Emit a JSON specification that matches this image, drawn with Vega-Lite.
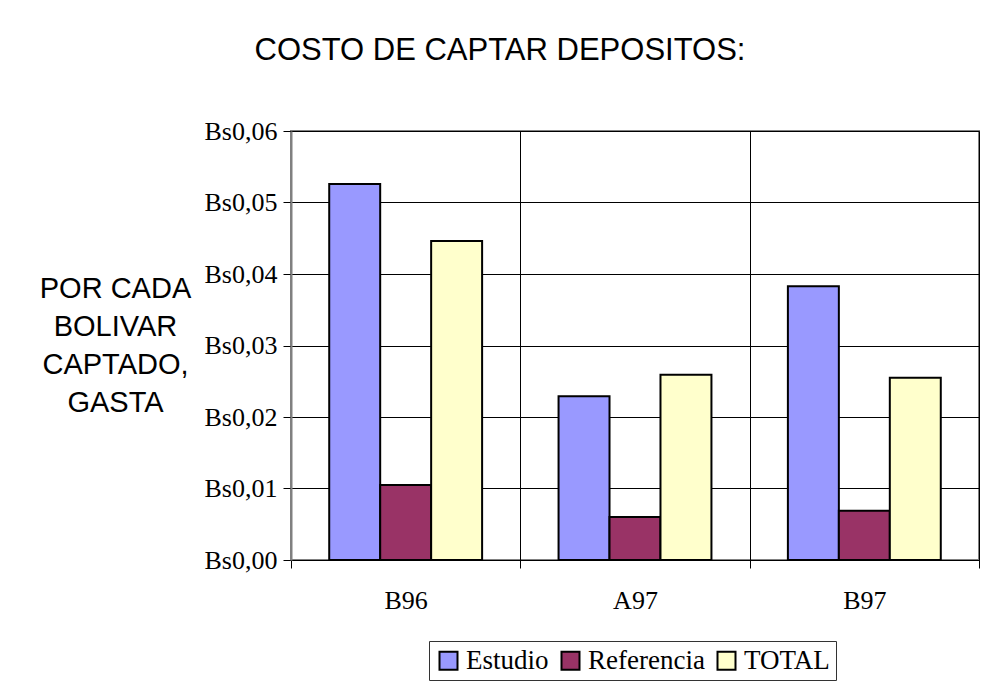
{
  "$schema": "https://vega.github.io/schema/vega-lite/v6.json",
  "width": 688,
  "height": 429,
  "autosize": {"type": "none"},
  "padding": {"left": 291, "top": 131, "right": 10, "bottom": 126},
  "background": "white",
  "title": {
    "text": "COSTO DE CAPTAR DEPOSITOS:",
    "font": "Liberation Sans",
    "fontSize": 31,
    "fontWeight": "normal",
    "color": "black",
    "anchor": "middle",
    "dx": -135,
    "offset": 51
  },
  "data": {
    "values": [
      {"periodo": "B96", "serie": "Estudio", "valor": 0.0526},
      {"periodo": "B96", "serie": "Referencia", "valor": 0.0105},
      {"periodo": "B96", "serie": "TOTAL", "valor": 0.0446},
      {"periodo": "A97", "serie": "Estudio", "valor": 0.0229},
      {"periodo": "A97", "serie": "Referencia", "valor": 0.0060},
      {"periodo": "A97", "serie": "TOTAL", "valor": 0.0259},
      {"periodo": "B97", "serie": "Estudio", "valor": 0.0383},
      {"periodo": "B97", "serie": "Referencia", "valor": 0.0069},
      {"periodo": "B97", "serie": "TOTAL", "valor": 0.0255}
    ]
  },
  "mark": {"type": "bar", "stroke": "black", "strokeWidth": 2},
  "encoding": {
    "x": {
      "field": "periodo",
      "type": "nominal",
      "sort": ["B96", "A97", "B97"],
      "scale": {"paddingInner": 0, "paddingOuter": 0},
      "axis": {
        "title": null,
        "labelAngle": 0,
        "labelFont": "Liberation Serif",
        "labelFontSize": 26,
        "labelColor": "black",
        "labelPadding": 19,
        "tickBand": "extent",
        "tickSize": 8,
        "tickColor": "black",
        "domainColor": "black",
        "domainWidth": 1,
        "grid": true,
        "gridColor": "black",
        "gridWidth": 1
      }
    },
    "xOffset": {
      "field": "serie",
      "type": "nominal",
      "sort": ["Estudio", "Referencia", "TOTAL"],
      "scale": {"paddingInner": 0, "paddingOuter": 0.75}
    },
    "y": {
      "field": "valor",
      "type": "quantitative",
      "scale": {"domain": [0, 0.06], "nice": false},
      "axis": {
        "values": [0, 0.01, 0.02, 0.03, 0.04, 0.05, 0.06],
        "labelExpr": "'Bs0,0' + round(datum.value * 100)",
        "labelFont": "Liberation Serif",
        "labelFontSize": 26,
        "labelColor": "black",
        "labelPadding": 6,
        "tickSize": 8,
        "tickColor": "black",
        "domainColor": "#808080",
        "domainWidth": 2,
        "grid": true,
        "gridColor": "black",
        "gridWidth": 1,
        "title": ["POR CADA", "BOLIVAR", "CAPTADO,", "GASTA"],
        "titleFont": "Liberation Sans",
        "titleFontSize": 29,
        "titleFontWeight": "normal",
        "titleColor": "black",
        "titleAngle": 0,
        "titleAlign": "center",
        "titleBaseline": "middle",
        "titleLineHeight": 38,
        "titleX": -176,
        "titleY": 157
      }
    },
    "color": {
      "field": "serie",
      "type": "nominal",
      "scale": {
        "domain": ["Estudio", "Referencia", "TOTAL"],
        "range": ["#9999FF", "#993366", "#FFFFCC"]
      },
      "legend": {
        "title": null,
        "orient": "none",
        "direction": "horizontal",
        "legendX": 138,
        "legendY": 510,
        "symbolType": "square",
        "symbolSize": 324,
        "symbolStrokeColor": "black",
        "symbolStrokeWidth": 2,
        "symbolOpacity": 1,
        "labelFont": "Liberation Serif",
        "labelFontSize": 27,
        "labelColor": "black",
        "labelOffset": 4,
        "columnPadding": 8,
        "padding": 6,
        "strokeColor": "#333333"
      }
    }
  },
  "config": {
    "view": {"stroke": "#808080", "strokeWidth": 2}
  }
}
